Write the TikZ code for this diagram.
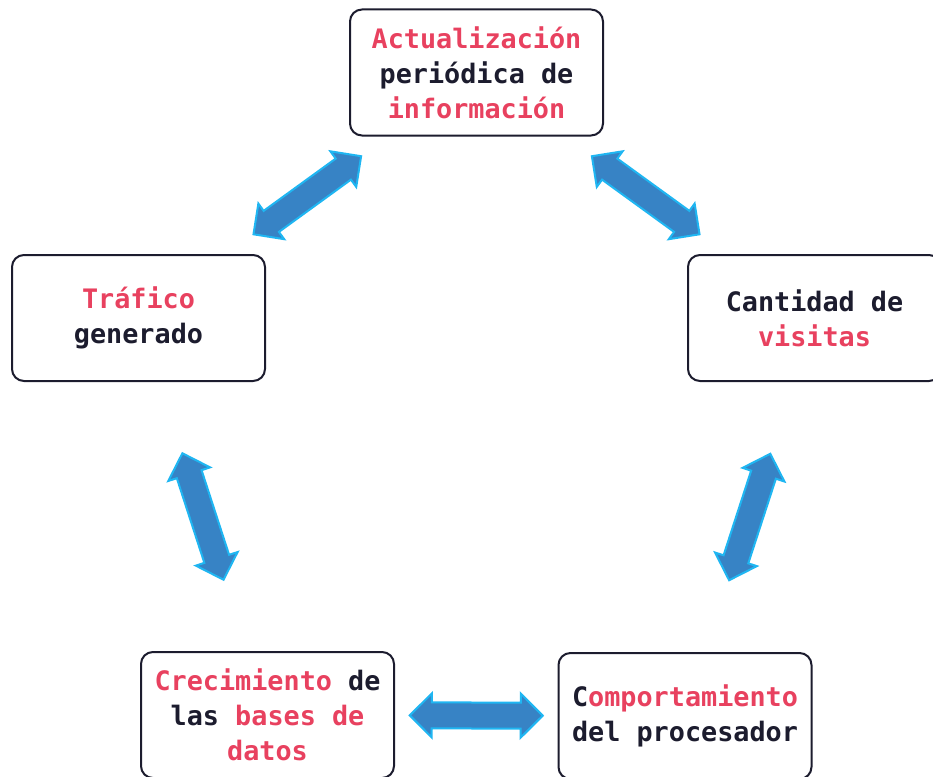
\documentclass[tikz,border=0pt]{standalone}
\usepackage{fontspec}
\setmainfont{DejaVu Sans Mono}
\usepackage{tikz}

\definecolor{rosa}{HTML}{E8415F}
\definecolor{tinta}{HTML}{1C1C2E}
\definecolor{flecha}{HTML}{3783C5}
\definecolor{borde}{HTML}{1FB6F2}

\newcommand{\resalta}[1]{\textcolor{rosa}{#1}}

\tikzset{
	caja/.style={draw=tinta, line width=2pt, rounded corners=12pt, minimum width=253pt, minimum height=126pt, align=center, text=tinta, font=\fontsize{26.8}{35}\selectfont\bfseries},
	dobleflecha/.pic={
		\filldraw[draw=borde, fill=flecha, line width=2pt] (-66.5,0) -- (-44.5,22) -- (-44.5,13) -- (44.5,13) -- (44.5,22) -- (66.5,0) -- (44.5,-22) -- (44.5,-13) -- (-44.5,-13) -- (-44.5,-22) -- cycle;
	}
}

\begin{document}
\begin{tikzpicture}[x=1pt, y=-1pt]
	\useasboundingbox (0,0) rectangle (933,776);
	\node[caja] (act) at (476.5,72.5) {\resalta{Actualización}\\periódica de\\\resalta{información}};
	\node[caja] (traf) at (138.5,318) {\resalta{Tráfico}\\generado};
	\node[caja] (vis) at (814.5,318) {Cantidad de\\\resalta{visitas}};
	\node[caja] (bd) at (267.5,715) {\resalta{Crecimiento} de\\las \resalta{bases de}\\\resalta{datos}};
	\node[caja] (proc) at (685,716) {C\resalta{omportamiento}\\del procesador};
	\path (act) -- pic[midway, sloped] {dobleflecha} (traf);
	\path (act) -- pic[midway, sloped] {dobleflecha} (vis);
	\path (traf) -- pic[midway, sloped] {dobleflecha} (bd);
	\path (vis) -- pic[midway, sloped] {dobleflecha} (proc);
	\path (bd) -- pic[midway, sloped] {dobleflecha} (proc);
	% boxes at the right and bottom edge run off the page, as in the picture
\end{tikzpicture}
\end{document}
